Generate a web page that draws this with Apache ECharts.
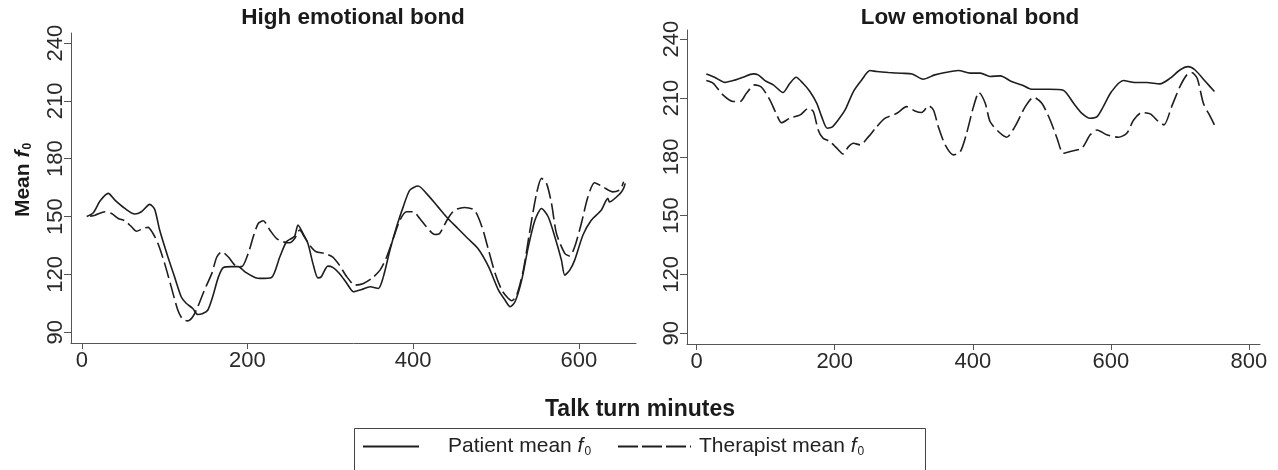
<!DOCTYPE html>
<html>
<head>
<meta charset="utf-8">
<script src="https://cdn.jsdelivr.net/npm/echarts@6/dist/echarts.min.js"></script>
<style>
  html, body { margin: 0; padding: 0; background: #fff; }
  #main { width: 1278px; height: 470px; }
</style>
</head>
<body>
<div id="main"></div>
<script>
// tick labels
var yTicks = [90, 120, 150, 180, 210, 240];
var xTicksHigh = [0, 200, 400, 600];
var xTicksLow = [0, 200, 400, 600, 800];

// high emotional bond - patient (solid)
var highPatientX = [6, 14, 22, 32, 40, 52, 64, 72, 82, 88, 94, 104, 112, 120, 126, 134, 140, 146, 152, 158, 165, 171, 181, 189, 197, 209, 215, 229, 239, 247, 253, 257, 261, 267, 273, 279, 285, 289, 297, 303, 311, 320, 328, 338, 348, 358, 364, 372, 380, 388, 396, 406, 416, 430, 442, 454, 466, 478, 491, 503, 511, 517, 523, 531, 539, 547, 555, 563, 571, 579, 583, 589, 595, 605, 615, 627, 635, 637, 650, 654, 656];
var highPatientY = [150, 152, 158, 162, 158.5, 154.2, 151.3, 152.5, 156.3, 153.7, 143, 129, 118.7, 108.4, 105, 102.3, 99.2, 99.7, 101.4, 108.4, 118.7, 123.6, 124, 124, 121.3, 118.4, 117.9, 118.4, 129, 136.9, 138.6, 139.8, 145.6, 141.2, 136, 125.7, 118.2, 118.7, 124.3, 123.6, 120.5, 115.3, 111, 112.2, 113.6, 112.7, 118.7, 132.6, 144.7, 155, 163.7, 165.8, 162, 155, 149, 143.8, 138.6, 133.5, 124, 111.8, 106.6, 103.2, 105.8, 117, 134.3, 148.1, 154.2, 149.9, 139.5, 127.4, 119.6, 122.2, 127.4, 140.4, 148.1, 153.3, 159.4, 157.6, 162, 164.6, 167.2];

// high emotional bond - therapist (dashed)
var highTherapistX = [10, 16, 28, 36, 44, 52, 60, 66, 74, 80, 86, 92, 100, 108, 116, 122, 128, 134, 140, 148, 157, 163, 169, 177, 185, 193, 201, 207, 213, 219, 227, 235, 243, 251, 257, 263, 269, 275, 283, 293, 303, 311, 320, 330, 340, 350, 360, 368, 376, 384, 392, 400, 408, 416, 426, 432, 442, 450, 462, 474, 483, 491, 499, 507, 513, 519, 525, 533, 541, 549, 555, 561, 567, 573, 583, 589, 595, 603, 611, 619, 629, 641, 650, 654];
var highTherapistY = [150.2, 150.7, 152.5, 151.6, 149, 147.8, 144.7, 142.4, 143.8, 144.4, 141.2, 136, 125.7, 113.5, 101.4, 96.6, 95.9, 98, 103.2, 111.8, 120.5, 129, 131.7, 129, 124.8, 124, 131, 139.5, 146.4, 147.8, 143, 138.6, 136.9, 136.4, 138.6, 143, 139.2, 135.2, 131.7, 130.9, 129, 124.8, 118.7, 114.4, 115.3, 117.9, 122.2, 129, 138.6, 148.1, 152.5, 152.5, 149, 144.7, 140.7, 141.2, 149, 153.3, 154.7, 153.3, 144.7, 132.6, 120.5, 111.8, 108.4, 106.3, 109.2, 122.2, 143, 162, 169.8, 167.2, 156.8, 141.2, 130.9, 129.5, 134.3, 146.4, 160.2, 167.5, 165.4, 162.8, 164, 168];

// low emotional bond - patient (solid)
var lowPatientX = [14, 26, 41, 53, 67, 82, 89, 99, 111, 125, 135, 144, 154, 164, 174, 181, 189, 196, 205, 215, 227, 239, 251, 261, 278, 297, 312, 328, 345, 360, 379, 396, 411, 425, 440, 456, 471, 485, 510, 531, 546, 558, 570, 580, 589, 601, 618, 635, 652, 671, 686, 700, 712, 722, 737, 750];
var lowPatientY = [222.3, 220.6, 218, 218.9, 220.6, 222.3, 221.8, 218.9, 216.7, 212.8, 217.5, 220.6, 217.5, 213.3, 207.3, 200.5, 194.6, 195.1, 198.8, 203.9, 213.3, 219.2, 224, 223.5, 223, 222.6, 222.3, 219.6, 221.8, 223, 224, 222.7, 222.7, 221, 221.3, 218.4, 216.7, 214.5, 214.5, 214, 207.3, 202.2, 199.7, 200.5, 205.6, 213.3, 218.9, 217.9, 217.9, 217.2, 220.1, 224.3, 226, 224.3, 218.4, 213.3];

// low emotional bond - therapist (dashed)
var lowTherapistX = [14, 24, 38, 53, 63, 72, 84, 94, 106, 115, 123, 135, 150, 162, 169, 176, 183, 193, 203, 212, 220, 227, 237, 249, 260, 273, 290, 304, 316, 326, 336, 343, 350, 360, 372, 382, 391, 401, 409, 418, 425, 437, 449, 461, 476, 488, 500, 512, 522, 531, 541, 558, 570, 580, 594, 611, 623, 633, 645, 657, 669, 677, 688, 700, 710, 717, 725, 734, 744, 750];
var lowTherapistY = [218.9, 217.5, 211.6, 208.2, 208.2, 212.4, 216.7, 215.5, 209, 202.2, 197.4, 199.7, 201.4, 204.8, 203.1, 193.7, 189.5, 187.8, 184.4, 181.5, 185.2, 186.9, 186.1, 190.3, 195, 199.7, 202.2, 205.6, 203.4, 202.6, 206, 203.9, 195.4, 186.1, 181, 182.7, 192, 205.6, 212.8, 207.3, 198, 192.9, 190, 195.4, 205.6, 210.4, 207.3, 198.8, 189.5, 181.8, 182.7, 184.4, 191.2, 193.7, 191.2, 190, 192, 198.8, 202.6, 201.9, 198, 196.3, 205.6, 215.8, 221.8, 223, 220.1, 207.3, 200.5, 196.3];

function zip(xs, ys) {
    var out = [];
    for (var i = 0; i < xs.length; i++) out.push([xs[i], ys[i]]);
    return out;
}

var FONT = "'Liberation Sans', Arial, sans-serif";
var INK = '#1e1e1e';
var AXIS = '#555';
var DASH = [16, 5];

function xAxisOf(idx, min, max, ticks) {
    return {
        type: 'value', gridIndex: idx, min: min, max: max,
        axisLine: {show: true, onZero: false, lineStyle: {color: AXIS, width: 1}},
        axisTick: {show: true, length: 6, customValues: ticks, lineStyle: {color: AXIS}},
        axisLabel: {customValues: ticks, margin: 7, fontSize: 22, fontFamily: FONT, color: '#2a2a2a'},
        splitLine: {show: false}
    };
}
function yAxisOf(idx, min, max) {
    return {
        type: 'value', gridIndex: idx, min: min, max: max,
        axisLine: {show: true, onZero: false, lineStyle: {color: AXIS, width: 1}},
        axisTick: {show: true, length: 7, customValues: yTicks, lineStyle: {color: AXIS}},
        axisLabel: {customValues: yTicks, rotate: 90, margin: 4, fontSize: 22, fontFamily: FONT, color: '#2a2a2a'},
        splitLine: {show: false}
    };
}
function lineOf(name, idx, data, dashed) {
    return {
        name: name, type: 'line', xAxisIndex: idx, yAxisIndex: idx,
        data: data, symbol: 'none', smooth: 0.25, silent: true,
        color: INK, itemStyle: {color: INK},
        lineStyle: {color: INK, width: 1.6, type: dashed ? DASH : 'solid'}
    };
}

var PATIENT = 'Patient mean f0';
var THERAPIST = 'Therapist mean f0';
var subRich = {
    a: {fontSize: 21, fontFamily: FONT, color: '#222'},
    f: {fontSize: 21, fontFamily: FONT, fontStyle: 'italic', color: '#222'},
    s: {fontSize: 12, fontFamily: FONT, color: '#222', padding: [11, 0, 0, 1]}
};

var myChart = echarts.init(document.getElementById('main'));
var option = {
    animation: false,
    backgroundColor: '#fff',
    grid: [
        {left: 71, top: 33, width: 565, height: 310},
        {left: 687, top: 30, width: 573, height: 314}
    ],
    xAxis: [
        xAxisOf(0, -13, 669, xTicksHigh),
        xAxisOf(1, -14, 816, xTicksLow)
    ],
    yAxis: [
        yAxisOf(0, 84.4, 245.2),
        yAxisOf(1, 84.5, 244.7)
    ],
    legend: [
        {
            data: [PATIENT], left: 362, top: 436, itemWidth: 56, itemHeight: 16, padding: 0,
            itemStyle: {opacity: 0},
            formatter: function () { return '{g|}{a|Patient mean }{f|f}{s|0}'; },
            textStyle: {rich: Object.assign({g: {width: 24}}, subRich)}
        },
        {
            data: [THERAPIST], left: 617, top: 436, itemWidth: 73, itemHeight: 16, padding: 0,
            itemStyle: {opacity: 0},
            lineStyle: {type: [20, 4]},
            formatter: function () { return '{g|}{a|Therapist mean }{f|f}{s|0}'; },
            textStyle: {rich: Object.assign({g: {width: 3}}, subRich)}
        }
    ],
    graphic: [
        {type: 'rect', shape: {x: 354.5, y: 428.5, width: 571, height: 60}, style: {fill: 'none', stroke: '#444', lineWidth: 1}, silent: true},
        {type: 'text', x: 353, y: 18, style: {text: 'High emotional bond', font: 'bold 22.5px ' + FONT, fill: '#1a1a1a', textAlign: 'center', textVerticalAlign: 'middle'}},
        {type: 'text', x: 970, y: 18, style: {text: 'Low emotional bond', font: 'bold 22.5px ' + FONT, fill: '#1a1a1a', textAlign: 'center', textVerticalAlign: 'middle'}},
        {type: 'text', x: 640, y: 410, style: {text: 'Talk turn minutes', font: 'bold 23px ' + FONT, fill: '#1a1a1a', textAlign: 'center', textVerticalAlign: 'middle'}},
        {
            type: 'text', x: 23, y: 180, rotation: Math.PI / 2,
            style: {
                text: '{a|Mean }{f|f}{s|0}', textAlign: 'center', textVerticalAlign: 'middle',
                rich: {
                    a: {fontSize: 21, fontWeight: 'bold', fontFamily: FONT, fill: '#1a1a1a'},
                    f: {fontSize: 21, fontWeight: 'bold', fontStyle: 'italic', fontFamily: FONT, fill: '#1a1a1a'},
                    s: {fontSize: 12, fontWeight: 'bold', fontFamily: FONT, fill: '#1a1a1a', padding: [10, 0, 0, 1]}
                }
            }
        }
    ],
    series: [
        lineOf(PATIENT, 0, zip(highPatientX, highPatientY), false),
        lineOf(THERAPIST, 0, zip(highTherapistX, highTherapistY), true),
        lineOf(PATIENT, 1, zip(lowPatientX, lowPatientY), false),
        lineOf(THERAPIST, 1, zip(lowTherapistX, lowTherapistY), true)
    ]
};
myChart.setOption(option);
</script>
</body>
</html>
